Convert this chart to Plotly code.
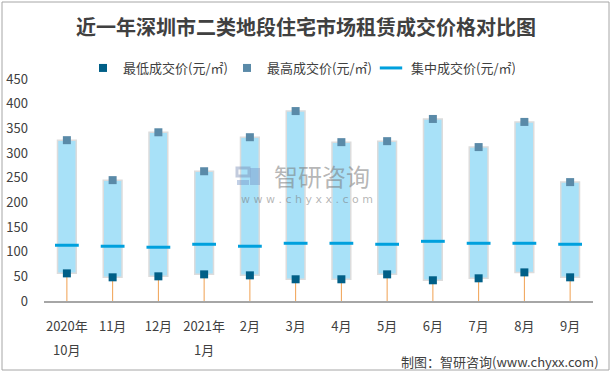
import plotly.graph_objects as go

categories = ["2020年10月", "11月", "12月", "2021年1月", "2月", "3月", "4月", "5月", "6月", "7月", "8月", "9月"]
tick_line1 = ["2020年", "11月", "12月", "2021年", "2月", "3月", "4月", "5月", "6月", "7月", "8月", "9月"]
tick_line2 = ["10月", "", "", "1月", "", "", "", "", "", "", "", ""]
low_price = [56, 48, 50, 54, 52, 44, 44, 54, 42, 46, 58, 48]
high_price = [326, 245, 342, 263, 332, 385, 322, 324, 369, 312, 363, 241]
mid_price = [113, 111, 109, 115, 111, 117, 117, 115, 121, 117, 117, 115]

FONT = "Noto Sans CJK SC"
L, R, T, B = 44, 19, 79, 71
W, H = 612, 372
pw, ph = W - L - R, H - T - B

def px(x):
    return (x - L) / pw

def py(y):
    return (H - B - y) / ph

fig = go.Figure()

fig.add_trace(go.Bar(
    x=categories,
    y=[h - l for h, l in zip(high_price, low_price)],
    base=low_price,
    width=0.41,
    marker=dict(color="#A8E1F8", line=dict(color="#DCDCDC", width=1.5)),
    showlegend=False,
    hoverinfo="skip",
))

fig.add_trace(go.Scatter(
    x=categories, y=low_price, mode="markers",
    name="最低成交价(元/㎡)",
    marker=dict(symbol="square", size=8, color="#005F87"),
    error_y=dict(type="data", symmetric=False, array=[0] * len(low_price),
                 arrayminus=low_price, width=0, thickness=1, color="#F0A050"),
))
fig.add_trace(go.Scatter(
    x=categories, y=high_price, mode="markers",
    name="最高成交价(元/㎡)",
    marker=dict(symbol="square", size=8, color="#5A8AA8"),
))
fig.add_trace(go.Scatter(
    x=categories, y=mid_price, mode="markers",
    name="集中成交价(元/㎡)",
    marker=dict(symbol="line-ew", size=17, color="#00A0DD",
                line=dict(color="#00A0DD", width=3)),
))

shapes = [
    dict(type="rect", xref="paper", yref="paper",
         x0=px(2), x1=px(609), y0=py(370), y1=py(2),
         line=dict(color="#A6A6A6", width=1), fillcolor="rgba(0,0,0,0)", layer="below"),
    # watermark logo (approximation)
    dict(type="rect", xref="paper", yref="paper", x0=px(237), x1=px(249), y0=py(176), y1=py(168),
         line=dict(color="rgba(120,140,180,0.45)", width=3), fillcolor="rgba(0,0,0,0)"),
    dict(type="rect", xref="paper", yref="paper", x0=px(250), x1=px(260), y0=py(185), y1=py(168),
         line=dict(width=0), fillcolor="rgba(120,150,200,0.45)"),
    dict(type="rect", xref="paper", yref="paper", x0=px(237), x1=px(249), y0=py(185), y1=py(180),
         line=dict(width=0), fillcolor="rgba(120,150,200,0.45)"),
]

annotations = [
    dict(text="智研咨询", xref="paper", yref="paper", x=px(322), y=py(175),
         showarrow=False, font=dict(family=FONT, size=24, color="rgba(120,120,120,0.55)")),
    dict(text="w w w . c h y x x . c o m", xref="paper", yref="paper", x=px(307), y=py(199),
         showarrow=False, font=dict(family="DejaVu Sans", size=11, color="rgba(120,120,120,0.55)")),
    dict(text="制图：智研咨询(www.chyxx.com)", xref="paper", yref="paper",
         x=px(601), y=py(361.5), xanchor="right", yanchor="middle", showarrow=False,
         font=dict(family=FONT, size=13, color="#404040")),
]
for cat, t2 in zip(categories, tick_line2):
    if t2:
        annotations.append(dict(text=t2, x=cat, xref="x", yref="paper", y=py(349),
                                yanchor="middle", showarrow=False,
                                font=dict(family=FONT, size=13, color="#404040")))

fig.update_layout(
    width=W, height=H,
    margin=dict(l=L, r=R, t=T, b=B, autoexpand=False),
    paper_bgcolor="white", plot_bgcolor="white",
    title=dict(text="<b>近一年深圳市二类地段住宅市场租赁成交价格对比图</b>",
               x=0.5, xanchor="center", y=1 - 28 / H, yanchor="middle",
               font=dict(family=FONT, size=20, color="#404040")),
    legend=dict(orientation="h", xref="container", yref="container",
                x=83 / W, xanchor="left", y=1 - 68 / H, yanchor="middle",
                font=dict(family=FONT, size=13, color="#404040"),
                entrywidth=99, itemwidth=30, bgcolor="rgba(0,0,0,0)"),
    font=dict(family=FONT, color="#404040"),
    bargap=0.5,
    xaxis=dict(type="category", showline=True, linecolor="#A6A6A6", linewidth=1.5,
               ticks="", showgrid=False, tickfont=dict(size=13, color="#404040"),
               tickmode="array", tickvals=categories, ticktext=tick_line1,
               range=[-0.5, 11.5], automargin=False, ticklabelstandoff=13),
    yaxis=dict(range=[0, 450], dtick=50, showgrid=False, showline=False, zeroline=False,
               ticks="", tickfont=dict(size=13, color="#404040"), ticklabelstandoff=15,
               automargin=False),
    shapes=shapes,
    annotations=annotations,
)

fig.write_html("out.html", config={"displayModeBar": False},
               post_script="document.body.style.margin='0';document.body.style.overflow='hidden';")
